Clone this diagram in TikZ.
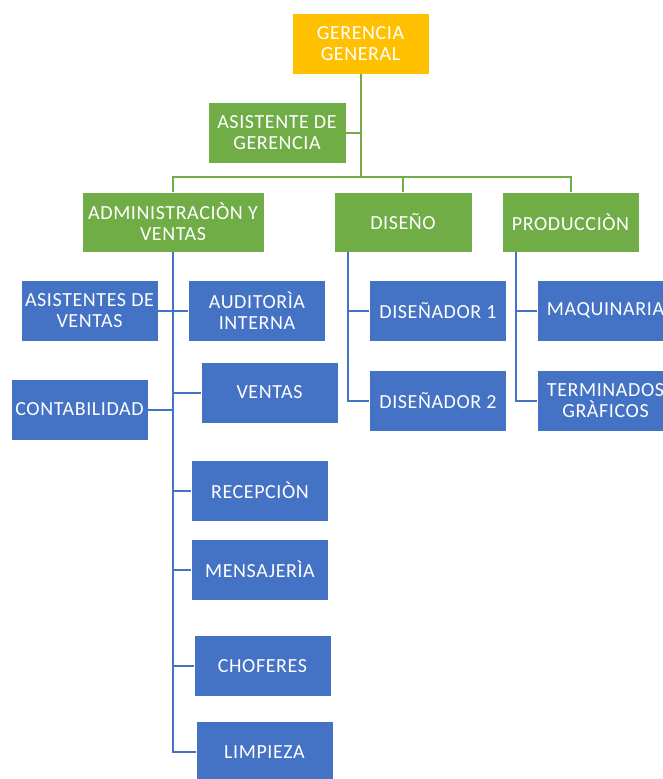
\documentclass[tikz,border=0pt]{standalone}
\usepackage{fontspec}
\setmainfont[LetterSpace=3]{Carlito}
\definecolor{oro}{HTML}{FFC000}
\definecolor{verde}{HTML}{70AD47}
\definecolor{azul}{HTML}{4472C4}
\begin{document}
\begin{tikzpicture}[x=1pt,y=-1pt,
    caja/.style={draw=white,line width=0.8pt,text=white,minimum width=137pt,minimum height=61pt,
      align=center,inner sep=1pt,font=\fontsize{20}{21}\selectfont},
    gline/.style={verde,line width=2pt},
    bline/.style={azul,line width=2pt}]
    \useasboundingbox (0,0) rectangle (663,779);
    % nivel superior
    \node[caja,fill=oro] (gerencia) at (360.5,43.5) {GERENCIA\\GENERAL};
    \node[caja,fill=verde,minimum width=138pt] (asistente) at (277,133) {ASISTENTE DE\\GERENCIA};
    \node[caja,fill=verde,minimum width=182pt,minimum height=60pt] (admin) at (173,222) {ADMINISTRACIÒN Y\\VENTAS};
    \node[caja,fill=verde,minimum width=138pt,minimum height=60pt] (diseno) at (403,222) {DISEÑO};
    \node[caja,fill=verde,minimum height=60pt] (produccion) at (570.5,222) {PRODUCCIÒN};
    % areas
    \foreach \nombre/\pos/\texto in {asistventas/{(89.5,310.5)}/{ASISTENTES DE\\VENTAS},
        auditoria/{(257,310.5)}/{AUDITORÌA\\INTERNA},
        contabilidad/{(79.5,409.5)}/{CONTABILIDAD},
        ventas/{(269.5,392.5)}/{VENTAS},
        recepcion/{(260,490.5)}/{RECEPCIÒN},
        mensajeria/{(260,569.5)}/{MENSAJERÌA},
        choferes/{(262.5,666)}/{CHOFERES},
        limpieza/{(264.5,752)}/{LIMPIEZA},
        disenador1/{(438,310.5)}/{DISEÑADOR 1},
        disenador2/{(438,400.5)}/{DISEÑADOR 2},
        maquinaria/{(605.5,310.5)}/{MAQUINARIA},
        terminados/{(605.5,400.5)}/{TERMINADOS\\GRÀFICOS}}
        \node[caja,fill=azul] (\nombre) at \pos {\texto};
    % conectores verdes
    \draw[gline] (gerencia.south) -- ++(0,103) coordinate (barra);
    \draw[gline] (asistente.east) -- (asistente.east -| gerencia.south);
    \draw[gline] (admin.north) -- (admin.north |- barra) -- (produccion.north |- barra) -- (produccion.north);
    \draw[gline] (diseno.north) -- (diseno.north |- barra);
    % conectores azules
    \draw[bline] (admin.south) -- (admin.south |- limpieza.west) -- (limpieza.west);
    \draw[bline] (asistventas.east) -- (auditoria.west);
    \draw[bline] (contabilidad.east) -- (contabilidad.east -| admin.south);
    \foreach \n in {ventas,recepcion,mensajeria,choferes}
        \draw[bline] (admin.south |- \n.west) -- (\n.west);
    \draw[bline] ([xshift=14pt]diseno.south west) coordinate (tdis) |- (disenador2.west);
    \draw[bline] (tdis |- disenador1.west) -- (disenador1.west);
    \draw[bline] ([xshift=14pt]produccion.south west) coordinate (tprod) |- (terminados.west);
    \draw[bline] (tprod |- maquinaria.west) -- (maquinaria.west);
\end{tikzpicture}
\end{document}
